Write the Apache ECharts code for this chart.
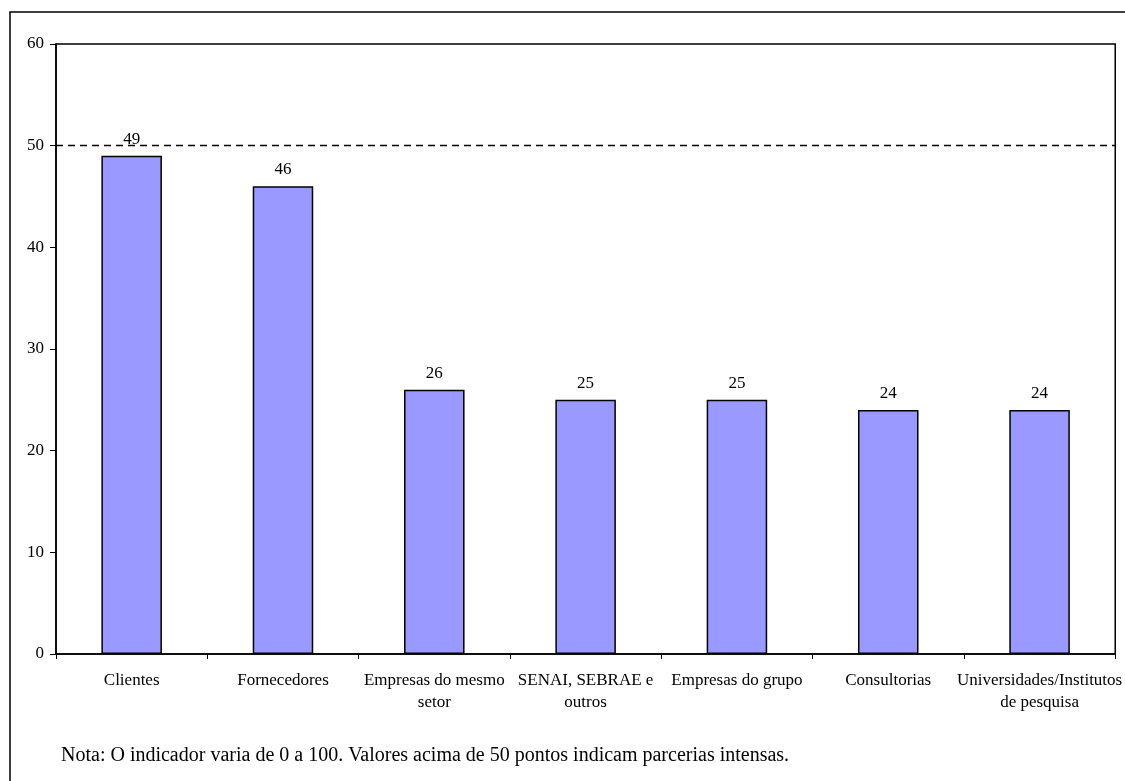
<!DOCTYPE html>
<html>
<head>
<meta charset="utf-8">
<script src="https://cdn.jsdelivr.net/npm/echarts@6/dist/echarts.min.js"></script>
<style>
  html, body { margin: 0; padding: 0; background: #fff; }
  #chart { width: 1125px; height: 781px; }
</style>
</head>
<body>
<div id="chart"></div>
<script>
// Partner categories and indicator scores (0–100 scale)
const categories = [
  'Clientes',
  'Fornecedores',
  'Empresas do mesmo\nsetor',
  'SENAI, SEBRAE e\noutros',
  'Empresas do grupo',
  'Consultorias',
  'Universidades/Institutos\nde pesquisa'
];
const scores = [49, 46, 26, 25, 25, 24, 24];
const threshold = 50;
const noteText = 'Nota: O indicador varia de 0 a 100. Valores acima de 50 pontos indicam parcerias intensas.';

const serif = '"Liberation Serif", "Times New Roman", serif';

const chart = echarts.init(document.getElementById('chart'));
chart.setOption({
  backgroundColor: '#fff',
  animation: false,
  textStyle: { fontFamily: serif },
  grid: {
    left: 56, top: 44, right: 7, bottom: 127,
    show: true, borderColor: '#000', borderWidth: 1.5, backgroundColor: 'transparent'
  },
  xAxis: {
    type: 'category',
    data: categories,
    axisLine: { lineStyle: { color: '#000', width: 1.5 } },
    axisTick: { show: true, length: 5, alignWithLabel: false, lineStyle: { color: '#000' } },
    axisLabel: {
      color: '#000', fontFamily: serif, fontSize: 17, margin: 16,
      lineHeight: 22, interval: 0
    }
  },
  yAxis: {
    type: 'value',
    min: 0, max: 60, interval: 10,
    splitLine: { show: false },
    axisLine: { show: true, lineStyle: { color: '#000', width: 1.5 } },
    axisTick: { show: true, length: 6, lineStyle: { color: '#000' } },
    axisLabel: { color: '#000', fontFamily: serif, fontSize: 17, margin: 12 }
  },
  series: [{
    type: 'bar',
    data: scores,
    barWidth: '40%',
    itemStyle: { color: '#9999FF', borderColor: '#000', borderWidth: 1.5 },
    label: {
      show: true, position: 'top', distance: 8,
      color: '#000', fontFamily: serif, fontSize: 17
    },
    markLine: {
      silent: true,
      symbol: ['none', 'none'],
      label: { show: false },
      lineStyle: { color: '#000', type: [7, 5], width: 1.3 },
      data: [{ yAxis: threshold }]
    }
  }],
  graphic: [
    {
      type: 'rect',
      shape: { x: 10, y: 12, width: 1130, height: 790 },
      style: { fill: 'none', stroke: '#000', lineWidth: 1.5 }
    },
    {
      type: 'text',
      left: 61, top: 746,
      style: { text: noteText, fill: '#000', font: '20px ' + serif }
    }
  ]
});
</script>
</body>
</html>
